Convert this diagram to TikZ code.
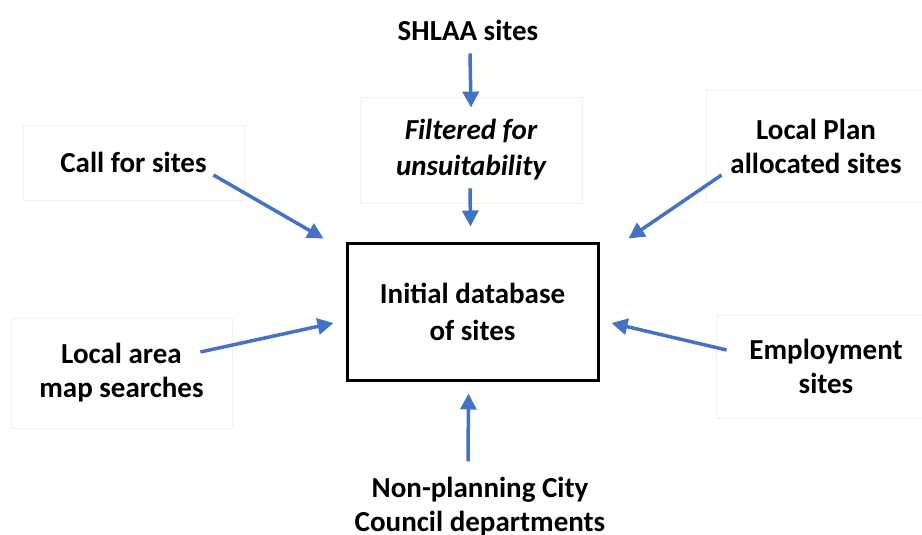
\documentclass[tikz,border=0pt]{standalone}
\usepackage{fontspec}
\setmainfont{Carlito}
\usetikzlibrary{arrows.meta}
\definecolor{arrowblue}{RGB}{68,114,196}
\definecolor{faintedge}{RGB}{252,236,232}
\tikzset{txt/.style={font=\fontsize{29}{34}\selectfont\bfseries,align=center,inner sep=0pt}}
\tikzset{srcbox/.style={draw=faintedge,fill=white,line width=0.8pt}}
\tikzset{feed/.style={draw=arrowblue,line width=3.5pt,-{Triangle[length=16pt,width=16pt]}}}

\begin{document}
\begin{tikzpicture}[x=1pt,y=-1pt]
            \useasboundingbox (0,0) rectangle (922,535);
            % setup the nodes
            \node[txt] (shlaa) at (468,30) {SHLAA sites};
            \node[txt,srcbox,minimum width=222,minimum height=106,font=\fontsize{29}{36}\selectfont\bfseries\itshape] (filter) at (471,150) {Filtered for\\unsuitability};
            \node[txt,draw=black,line width=3pt,minimum width=251,minimum height=137,font=\fontsize{29}{37}\selectfont\bfseries] (initial) at (472.5,311.5) {Initial database\\of sites};
            \node[txt] (council) at (480,507) {Non-planning City\\Council departments};
            \foreach \nm/\x/\y/\w/\h/\txt in {call/133.5/162.5/221/75/{Call for sites},
                plan/816/146/220/112/{Local Plan\\allocated sites},
                area/121.5/373/221/110/{Local area\\map searches},
                employ/826/366.5/220/103/{Employment\\sites}}
            {
                \node[txt,srcbox,minimum width=\w,minimum height=\h] (\nm) at (\x,\y) {\txt};
            }
            % arrows into the database
            \draw[feed] ([xshift=2,yshift=-13]shlaa.south) -- ([yshift=-11]filter.north);
            \draw[feed] ([xshift=-1,yshift=15]filter.south) -- ([xshift=-2,yshift=15]initial.north);
            \draw[feed] ([xshift=-31,yshift=-12.5]call.east) -- ([xshift=-22,yshift=3]initial.north west);
            \draw[feed] ([xshift=16,yshift=-29]plan.west) -- ([xshift=29,yshift=3]initial.north east);
            \draw[feed] ([xshift=-32,yshift=21]area.east) -- ([xshift=-12,yshift=-11.5]initial.west);
            \draw[feed] ([xshift=11,yshift=16.5]employ.west) -- ([xshift=12,yshift=-11.5]initial.east);
            \draw[feed] ([xshift=-12,yshift=16]council.north) -- ([xshift=-4,yshift=-12]initial.south);
        \end{tikzpicture}
\end{document}
